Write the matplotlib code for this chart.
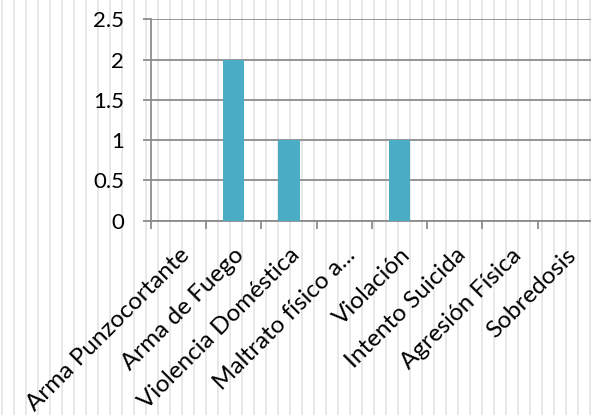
import matplotlib
matplotlib.use("Agg")
import matplotlib.pyplot as plt
from matplotlib.lines import Line2D
from matplotlib.transforms import ScaledTranslation

categories = ["Arma Punzocortante", "Arma de Fuego", "Violencia Doméstica",
              "Maltrato físico a...", "Violación", "Intento Suicida",
              "Agresión Física", "Sobredosis"]
values = [0, 2, 1, 0, 1, 0, 0, 0]
yticks = [0, 0.5, 1, 1.5, 2, 2.5]
ytick_labels = ["0", "0.5", "1", "1.5", "2", "2.5"]

plt.rcParams['font.family'] = ['Lato', 'DejaVu Sans']

W, H = 591, 415
fig = plt.figure(figsize=(W / 100, H / 100), dpi=100)

# faint vertical background stripes (scan artifact in the reference)
for k in range(50):
    xp = (2 + 12 * k) / W
    fig.add_artist(Line2D([xp, xp], [0, 1], transform=fig.transFigure,
                          color="#e4e4e4", lw=1.2, zorder=-10))

ax = fig.add_axes([150.7 / W, 1 - 220.7 / H, (593 - 150.7) / W, (220.7 - 19.3) / H])
ax.patch.set_alpha(0)

n = len(categories)
xs = [i + 0.5 for i in range(n)]
ax.bar(xs, values, width=0.385, color="#4BACC6", zorder=3)

ax.set_xlim(0, n)
ax.set_ylim(0, 2.5)
ax.set_yticks(yticks)
ax.set_yticklabels(ytick_labels)
ax.set_xticks(range(n))
ax.set_xticklabels([])
ax.set_xticks(xs, minor=True)
ax.set_xticklabels(categories, minor=True, rotation=45, ha="right", va="top",
                   rotation_mode="anchor")
off = ScaledTranslation(-4 / 100, 0, fig.dpi_scale_trans)
for lab in ax.get_xticklabels(minor=True):
    lab.set_transform(lab.get_transform() + off)

gc = "#8c8c8c"
ax.yaxis.grid(True, color=gc, lw=1.3, zorder=1)
for s in ["top", "right"]:
    ax.spines[s].set_visible(False)
ax.spines["left"].set_color(gc)
ax.spines["bottom"].set_color(gc)
ax.spines["left"].set_linewidth(1.3)
ax.spines["bottom"].set_linewidth(1.3)
ax.tick_params(axis="y", which="major", direction="out", length=6, width=1.3,
               color=gc, labelsize=16, pad=13, labelcolor="black")
ax.tick_params(axis="x", which="major", direction="out", length=6, width=1.3, color=gc)
ax.tick_params(axis="x", which="minor", length=0, labelsize=17.5, pad=17)

fig.savefig("out.png", dpi=100)
